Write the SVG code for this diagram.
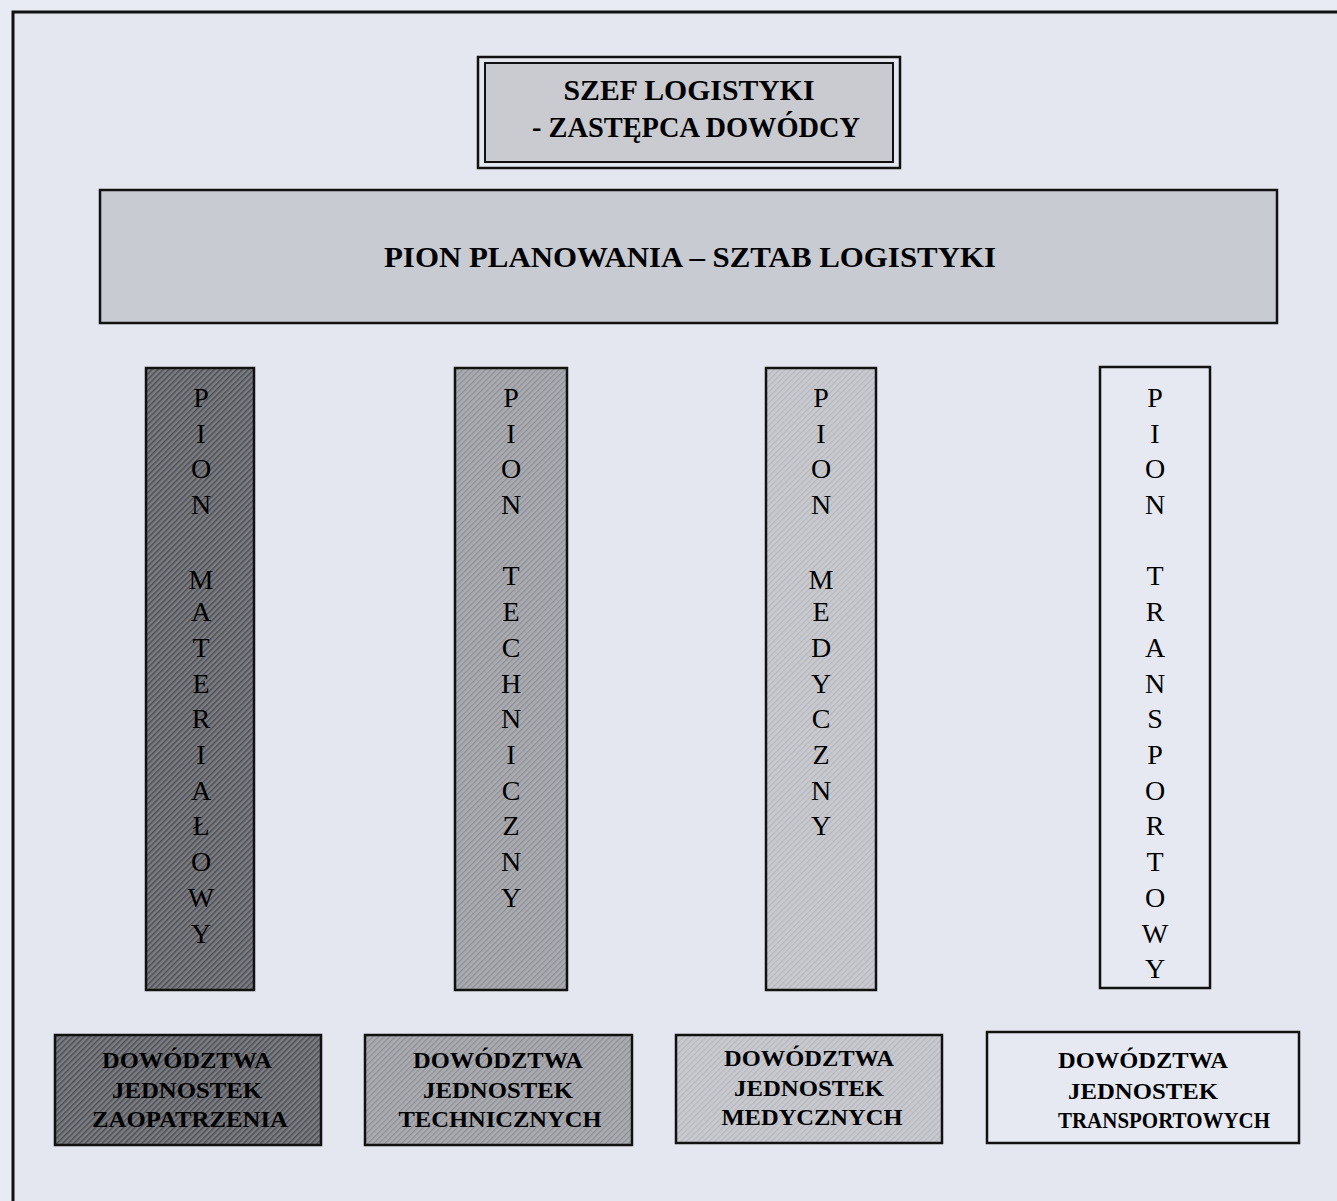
<svg xmlns="http://www.w3.org/2000/svg" width="1337" height="1201" viewBox="0 0 1337 1201">
<defs>
<pattern id="hDark" width="4" height="4" patternUnits="userSpaceOnUse" patternTransform="rotate(45)">
<rect width="4" height="4" fill="#7c7d82"/>
<rect width="1.6" height="4" fill="#505156"/>
</pattern>
<pattern id="hMid" width="4" height="4" patternUnits="userSpaceOnUse" patternTransform="rotate(45)">
<rect width="4" height="4" fill="#aaacb2"/>
<rect width="1.3" height="4" fill="#8e9096"/>
</pattern>
<pattern id="hLight" width="4" height="4" patternUnits="userSpaceOnUse" patternTransform="rotate(45)">
<rect width="4" height="4" fill="#c8cad0"/>
<rect width="1.2" height="4" fill="#b5b7bd"/>
</pattern>
</defs>
<style>
.frame{fill:#e4e7ef;stroke:#111;stroke-width:3}
.box{stroke:#111;stroke-width:2.5}
.title{font-family:"Liberation Serif","Times New Roman",serif;font-weight:bold;fill:#000;text-anchor:middle}
.vl{font-family:"Liberation Serif","Times New Roman",serif;font-size:28px;fill:#000;text-anchor:middle}
.bt{font-family:"Liberation Serif","Times New Roman",serif;font-weight:bold;font-size:23px;fill:#000;text-anchor:middle}
</style>
<rect x="0" y="0" width="1337" height="1201" fill="#e8ebf3"/>
<rect class="frame" x="13" y="12" width="1340" height="1205"/>
<g id="connectors"></g>
<g id="szef">
<rect x="478" y="57" width="422" height="111" fill="none" stroke="#111" stroke-width="2.5"/>
<rect x="485" y="63" width="408" height="99" fill="#c9cbd0" stroke="#111" stroke-width="2"/>
<text class="title" font-size="29" x="689" y="100" textLength="251" lengthAdjust="spacingAndGlyphs">SZEF LOGISTYKI</text>
<text class="title" font-size="29" x="696" y="137" textLength="328" lengthAdjust="spacingAndGlyphs">- ZASTĘPCA DOWÓDCY</text>
</g>
<g id="pion-planowania">
<rect class="box" x="100" y="190" width="1177" height="133" fill="#c8cbd2"/>
<text class="title" font-size="30" x="690" y="267" textLength="612" lengthAdjust="spacingAndGlyphs">PION PLANOWANIA – SZTAB LOGISTYKI</text>
</g>
<g id="pion-materialowy">
<rect class="box" x="146" y="368" width="108" height="622" fill="url(#hDark)"/>
<text class="vl"><tspan x="201" y="407">P</tspan><tspan x="201" y="443">I</tspan><tspan x="201" y="478">O</tspan><tspan x="201" y="514">N</tspan><tspan x="201" y="589">M</tspan><tspan x="201" y="621">A</tspan><tspan x="201" y="657">T</tspan><tspan x="201" y="693">E</tspan><tspan x="201" y="728">R</tspan><tspan x="201" y="764">I</tspan><tspan x="201" y="800">A</tspan><tspan x="201" y="835">Ł</tspan><tspan x="201" y="871">O</tspan><tspan x="201" y="907">W</tspan><tspan x="201" y="943">Y</tspan></text>
</g>
<g id="pion-techniczny">
<rect class="box" x="455" y="368" width="112" height="622" fill="url(#hMid)"/>
<text class="vl"><tspan x="511" y="407">P</tspan><tspan x="511" y="443">I</tspan><tspan x="511" y="478">O</tspan><tspan x="511" y="514">N</tspan><tspan x="511" y="585">T</tspan><tspan x="511" y="621">E</tspan><tspan x="511" y="657">C</tspan><tspan x="511" y="693">H</tspan><tspan x="511" y="728">N</tspan><tspan x="511" y="764">I</tspan><tspan x="511" y="800">C</tspan><tspan x="511" y="835">Z</tspan><tspan x="511" y="871">N</tspan><tspan x="511" y="907">Y</tspan></text>
</g>
<g id="pion-medyczny">
<rect class="box" x="766" y="368" width="110" height="622" fill="url(#hLight)"/>
<text class="vl"><tspan x="821" y="407">P</tspan><tspan x="821" y="443">I</tspan><tspan x="821" y="478">O</tspan><tspan x="821" y="514">N</tspan><tspan x="821" y="589">M</tspan><tspan x="821" y="621">E</tspan><tspan x="821" y="657">D</tspan><tspan x="821" y="693">Y</tspan><tspan x="821" y="728">C</tspan><tspan x="821" y="764">Z</tspan><tspan x="821" y="800">N</tspan><tspan x="821" y="835">Y</tspan></text>
</g>
<g id="pion-transportowy">
<rect class="box" x="1100" y="367" width="110" height="621" fill="#e6e9f1"/>
<text class="vl"><tspan x="1155" y="407">P</tspan><tspan x="1155" y="443">I</tspan><tspan x="1155" y="478">O</tspan><tspan x="1155" y="514">N</tspan><tspan x="1155" y="585">T</tspan><tspan x="1155" y="621">R</tspan><tspan x="1155" y="657">A</tspan><tspan x="1155" y="693">N</tspan><tspan x="1155" y="728">S</tspan><tspan x="1155" y="764">P</tspan><tspan x="1155" y="800">O</tspan><tspan x="1155" y="835">R</tspan><tspan x="1155" y="871">T</tspan><tspan x="1155" y="907">O</tspan><tspan x="1155" y="943">W</tspan><tspan x="1155" y="978">Y</tspan></text>
</g>
<g id="dow-zaopatrzenia">
<rect class="box" x="55" y="1035" width="266" height="110" fill="url(#hDark)"/>
<text class="bt" x="187" y="1068" textLength="170" lengthAdjust="spacingAndGlyphs">DOWÓDZTWA</text>
<text class="bt" x="187" y="1098" textLength="150" lengthAdjust="spacingAndGlyphs">JEDNOSTEK</text>
<text class="bt" x="190" y="1127" textLength="196" lengthAdjust="spacingAndGlyphs">ZAOPATRZENIA</text>
</g>
<g id="dow-technicznych">
<rect class="box" x="365" y="1035" width="267" height="110" fill="url(#hMid)"/>
<text class="bt" x="498" y="1068" textLength="170" lengthAdjust="spacingAndGlyphs">DOWÓDZTWA</text>
<text class="bt" x="498" y="1098" textLength="150" lengthAdjust="spacingAndGlyphs">JEDNOSTEK</text>
<text class="bt" x="500" y="1127" textLength="203" lengthAdjust="spacingAndGlyphs">TECHNICZNYCH</text>
</g>
<g id="dow-medycznych">
<rect class="box" x="676" y="1035" width="266" height="108" fill="url(#hLight)"/>
<text class="bt" x="809" y="1066" textLength="170" lengthAdjust="spacingAndGlyphs">DOWÓDZTWA</text>
<text class="bt" x="809" y="1096" textLength="150" lengthAdjust="spacingAndGlyphs">JEDNOSTEK</text>
<text class="bt" x="812" y="1125" textLength="181" lengthAdjust="spacingAndGlyphs">MEDYCZNYCH</text>
</g>
<g id="dow-transportowych">
<rect class="box" x="987" y="1032" width="312" height="111" fill="#e6e9f1"/>
<text class="bt" x="1143" y="1068" textLength="170" lengthAdjust="spacingAndGlyphs">DOWÓDZTWA</text>
<text class="bt" x="1143" y="1099" textLength="150" lengthAdjust="spacingAndGlyphs">JEDNOSTEK</text>
<text class="bt" x="1164" y="1128" textLength="212" lengthAdjust="spacingAndGlyphs">TRANSPORTOWYCH</text>
</g>
</svg>
